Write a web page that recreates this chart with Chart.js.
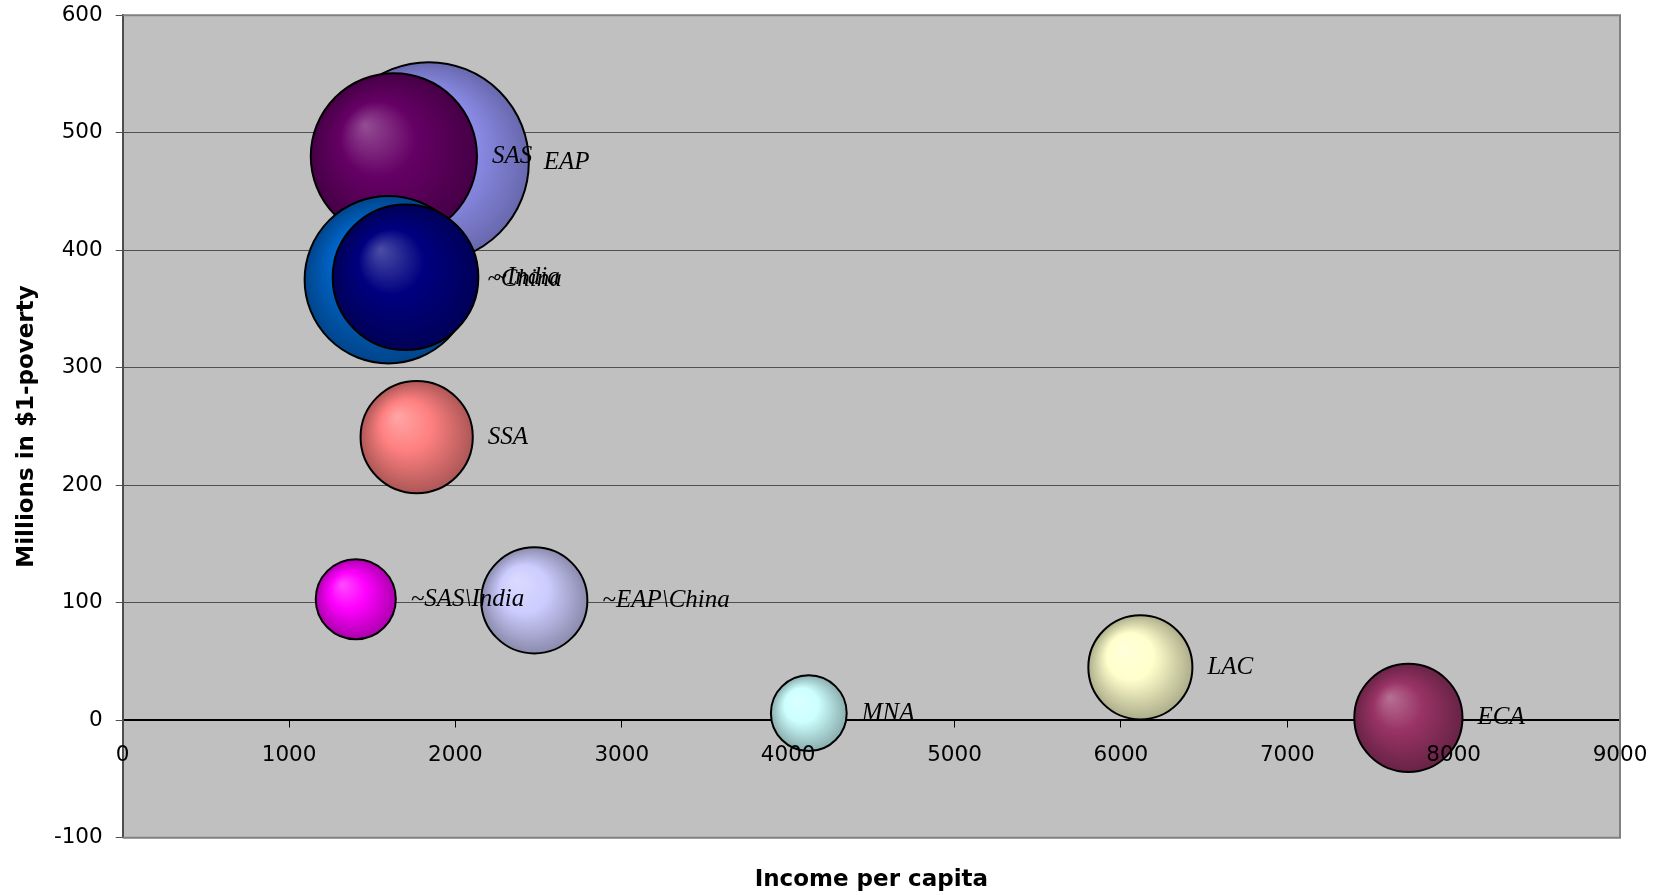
<!DOCTYPE html>
<html>
<head>
<meta charset="utf-8">
<script src="https://cdn.jsdelivr.net/npm/chart.js@4.4.1/dist/chart.umd.min.js"></script>
<style>
  html, body { margin: 0; padding: 0; background: #fff; }
</style>
</head>
<body>
<canvas id="povertyChart" width="1661" height="895"></canvas>
<script>
// regions, drawn in this order (later ones sit on top)
const regions = ['EAP', 'SAS', '~China', '~India', 'SSA', '~SAS\\India', '~EAP\\China', 'MNA', 'LAC', 'ECA'];
const incomePerCapita = [1840, 1630, 1597, 1700, 1767, 1401, 2474, 4124, 6117, 7728];
const povertyMillions = [475, 480, 375, 377, 241, 103, 102, 6, 45, 2];
// bubble size (population, millions) - bubble area follows this
const population = [1810, 1250, 1270, 960, 570, 290, 510, 260, 490, 530];
const bubbleColors = ['#9999ff', '#660066', '#0066cc', '#000080', '#ff8080', '#ff00ff', '#ccccff', '#ccffff', '#ffffcc', '#993366'];

const xTicks = { min: 0, max: 9000, step: 1000 };
const yTicks = { min: -100, max: 600, step: 100 };

const points = regions.map((name, i) => ({
    x: incomePerCapita[i],
    y: povertyMillions[i],
    s: population[i],
    i: i
}));

const maxPop = Math.max(...population);
const maxRadius = 100; // px, biggest bubble

// radius is resolved while parsing (before layout), so keep it area-free
function bubbleRadius(s) {
    return maxRadius * Math.sqrt(s / maxPop);
}

function hexToRgb(hex) {
    const n = parseInt(hex.slice(1), 16);
    return [(n >> 16) & 255, (n >> 8) & 255, n & 255];
}

function mix(hex, target, amt) {
    const c = hexToRgb(hex);
    const m = c.map(v => Math.round(v + (target - v) * amt));
    return 'rgb(' + m.join(',') + ')';
}

// sphere-like shading, light spot to the upper left
function sphereFill(ctx) {
    if (ctx.type !== 'data') return 'transparent';
    const chart = ctx.chart;
    const raw = ctx.raw;
    const base = bubbleColors[raw.i];
    if (!chart.chartArea) return base;
    const px = chart.scales.x.getPixelForValue(raw.x);
    const py = chart.scales.y.getPixelForValue(raw.y);
    const r = bubbleRadius(raw.s);
    const g = chart.ctx.createRadialGradient(px - 0.35 * r, py - 0.38 * r, 0, px, py, r);
    g.addColorStop(0, mix(base, 255, 0.3));
    g.addColorStop(0.45, base);
    g.addColorStop(1, mix(base, 0, 0.32));
    return g;
}

const plotArea = {
    id: 'plotArea',
    beforeDraw(chart) {
        const { ctx, chartArea: a } = chart;
        ctx.save();
        ctx.fillStyle = '#c0c0c0';
        ctx.fillRect(a.left, a.top, a.width, a.height);
        ctx.restore();
    },
    beforeDatasetsDraw(chart) {
        const { ctx, chartArea: a } = chart;
        ctx.save();
        ctx.strokeStyle = '#808080';
        ctx.lineWidth = 2;
        ctx.beginPath();
        ctx.moveTo(a.left, a.top);
        ctx.lineTo(a.right, a.top);
        ctx.lineTo(a.right, a.bottom);
        ctx.lineTo(a.left, a.bottom);
        ctx.stroke();
        ctx.restore();
    }
};

const bubbleLabels = {
    id: 'bubbleLabels',
    afterDatasetsDraw(chart) {
        const ctx = chart.ctx;
        const meta = chart.getDatasetMeta(0);
        ctx.save();
        ctx.font = 'italic 25px "Liberation Serif"';
        ctx.fillStyle = '#000';
        ctx.textAlign = 'left';
        ctx.textBaseline = 'middle';
        meta.data.forEach((el, i) => {
            const r = el.options.radius;
            ctx.fillText(regions[i], el.x + r + 15, el.y);
        });
        ctx.restore();
    }
};

const tickFont = { family: 'DejaVu Sans', size: 21.5 };
const titleFont = { family: 'DejaVu Sans', size: 23, weight: 'bold' };
const plainNumber = v => String(v);
const noSidePadding = scale => { scale.paddingLeft = 0; scale.paddingRight = 0; };

new Chart(document.getElementById('povertyChart'), {
    type: 'bubble',
    data: {
        datasets: [{
            data: points,
            backgroundColor: sphereFill,
            borderColor: '#000',
            borderWidth: 2,
            radius: ctx => bubbleRadius(ctx.raw.s),
            hoverRadius: 0,
            clip: false
        }]
    },
    options: {
        responsive: false,
        animation: false,
        events: [],
        layout: { autoPadding: false, padding: { top: 15.3, right: 41, left: 0, bottom: 0 } },
        plugins: {
            legend: { display: false },
            tooltip: { enabled: false }
        },
        scales: {
            x: {
                type: 'linear',
                axis: 'x',
                position: { y: 0 },
                min: xTicks.min,
                max: xTicks.max,
                ticks: { stepSize: xTicks.step, display: false },
                grid: { drawOnChartArea: false, drawTicks: true, tickLength: 7, color: '#000', lineWidth: 1 },
                border: { display: true, color: '#000', width: 1.5 },
                afterFit: noSidePadding
            },
            xLabels: {
                type: 'linear',
                axis: 'x',
                position: { y: 0 },
                min: xTicks.min,
                max: xTicks.max,
                ticks: {
                    stepSize: xTicks.step,
                    color: '#000',
                    font: tickFont,
                    padding: 22,
                    maxRotation: 0,
                    autoSkip: false,
                    z: 1,
                    callback: plainNumber
                },
                grid: { display: false, drawTicks: false },
                border: { display: false },
                afterFit: noSidePadding
            },
            xTitle: {
                type: 'linear',
                axis: 'x',
                position: 'bottom',
                min: xTicks.min,
                max: xTicks.max,
                ticks: { display: false },
                grid: { display: false, drawTicks: false },
                border: { display: false },
                title: {
                    display: true,
                    text: 'Income per capita',
                    color: '#000',
                    font: titleFont,
                    padding: { top: 0, bottom: 1 }
                },
                afterFit(scale) {
                    scale.height = 57.3;
                    noSidePadding(scale);
                }
            },
            y: {
                type: 'linear',
                position: 'left',
                min: yTicks.min,
                max: yTicks.max,
                ticks: { stepSize: yTicks.step, color: '#000', font: tickFont, padding: 13, callback: plainNumber },
                grid: {
                    color: ctx => (ctx.tick && ctx.tick.value === 0) ? '#000' : '#505050',
                    tickColor: '#505050',
                    lineWidth: 1,
                    tickLength: 7
                },
                border: { display: true, color: '#4d4d4d', width: 2 },
                title: {
                    display: true,
                    text: 'Millions in $1-poverty',
                    color: '#000',
                    font: titleFont,
                    padding: { top: 13, bottom: 0 }
                },
                afterFit(scale) {
                    scale.width = 122.7;
                    scale.paddingTop = 0;
                    scale.paddingBottom = 0;
                }
            }
        }
    },
    plugins: [plotArea, bubbleLabels]
});
</script>
</body>
</html>
